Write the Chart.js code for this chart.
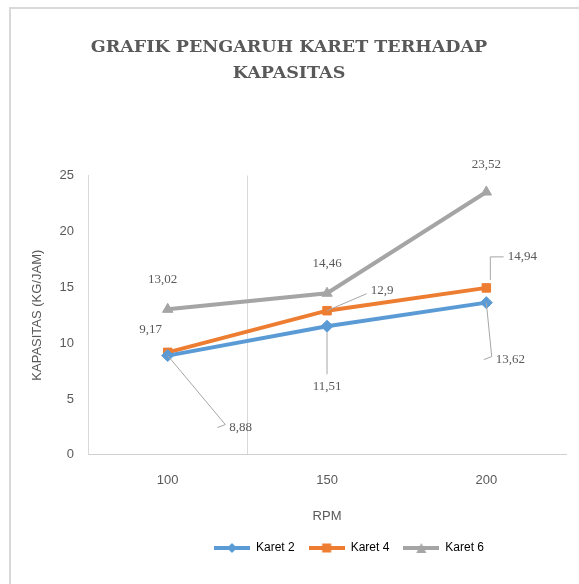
<!DOCTYPE html>
<html>
<head>
<meta charset="utf-8">
<script src="https://cdn.jsdelivr.net/npm/chart.js@4/dist/chart.umd.min.js"></script>
<style>
  html, body { margin: 0; padding: 0; background: #fff; }
  #wrap { width: 579px; height: 584px; }
</style>
</head>
<body>
<div id="wrap"><canvas id="chart" width="579" height="584"></canvas></div>
<script>
// Data
const rpm = ['100', '150', '200'];
const karet2 = [8.88, 11.51, 13.62];
const karet4 = [9.17, 12.9, 14.94];
const karet6 = [13.02, 14.46, 23.52];
const seriesNames = ['Karet 2', 'Karet 4', 'Karet 6'];

const colors = ['#5B9BD5', '#ED7D31', '#A5A5A5'];
const markers = ['rectRot', 'rect', 'triangle'];

// label offsets (dx, dy) relative to the point, plus leader line flag
const labelPos = [
  [[73, 72, true], [0, 60, true], [24, 57, true]],
  [[-17, -23, false], [55, -20, true], [36, -31, true]],
  [[-5, -30, false], [0, -30, false], [0, -27, false]]
];

function fmt(v) {
  return String(v).replace('.', ',');
}

// small canvas with line + marker for the legend
function legendIcon(color, style) {
  const c = document.createElement('canvas');
  c.width = 36; c.height = 12;
  const g = c.getContext('2d');
  g.strokeStyle = color; g.lineWidth = 4;
  g.beginPath(); g.moveTo(0, 6); g.lineTo(36, 6); g.stroke();
  g.fillStyle = color;
  g.beginPath();
  if (style === 'rectRot') {
    g.moveTo(18, 1); g.lineTo(23, 6); g.lineTo(18, 11); g.lineTo(13, 6);
  } else if (style === 'rect') {
    g.rect(13.5, 1.5, 9, 9);
  } else {
    g.moveTo(18, 1); g.lineTo(23, 11); g.lineTo(13, 11);
  }
  g.closePath(); g.fill();
  return c;
}

// chart area frame (left and top edges) + shift legend to the right like the original
const frame = {
  id: 'frame',
  afterLayout(chart) {
    chart.legend.left += 60;
    chart.legend.right += 60;
  },
  beforeDraw(chart) {
    const ctx = chart.ctx;
    ctx.save();
    ctx.strokeStyle = '#D9D9D9';
    ctx.lineWidth = 2;
    ctx.beginPath();
    ctx.moveTo(10, 584);
    ctx.lineTo(10, 8);
    ctx.lineTo(579, 8);
    ctx.stroke();
    ctx.restore();
  }
};

const dataLabels = {
  id: 'dataLabels',
  afterDatasetsDraw(chart) {
    const ctx = chart.ctx;
    ctx.save();
    ctx.font = '13px "Liberation Serif", "DejaVu Serif", serif';
    ctx.fillStyle = '#595959';
    ctx.strokeStyle = '#A6A6A6';
    ctx.lineWidth = 1;
    ctx.textAlign = 'center';
    ctx.textBaseline = 'middle';
    chart.data.datasets.forEach((ds, i) => {
      const meta = chart.getDatasetMeta(i);
      meta.data.forEach((pt, j) => {
        const [dx, dy, leader] = labelPos[i][j];
        const lx = pt.x + dx, ly = pt.y + dy;
        const w = ctx.measureText(fmt(ds.data[j])).width;
        if (leader) {
          ctx.beginPath();
          if (dy < 0 && dx > 0 && Math.abs(dx) < 40 && Math.abs(dy) > 25) {
            // elbow shape going up then right
            ctx.moveTo(pt.x + 4, pt.y - 8);
            ctx.lineTo(pt.x + 4, ly);
            ctx.lineTo(lx - w / 2 - 4, ly);
          } else if (Math.abs(dx) > 20) {
            ctx.moveTo(pt.x, pt.y);
            ctx.lineTo(lx - Math.sign(dx) * (w / 2 + 4), ly - Math.sign(dy) * 3);
            if (dy > 0) ctx.lineTo(lx - Math.sign(dx) * (w / 2 + 12), ly);
          } else {
            ctx.moveTo(pt.x, pt.y + 6);
            ctx.lineTo(lx, ly - Math.sign(dy) * 12);
          }
          ctx.stroke();
        }
        ctx.fillText(fmt(ds.data[j]), lx, ly);
      });
    });
    ctx.restore();
  }
};

const datasets = [karet2, karet4, karet6].map((vals, i) => ({
  label: seriesNames[i],
  data: vals,
  borderColor: colors[i],
  backgroundColor: colors[i],
  borderWidth: 4,
  pointStyle: markers[i],
  pointRadius: 6,
  pointBorderWidth: 1,
  tension: 0
}));

new Chart(document.getElementById('chart'), {
  type: 'line',
  data: { labels: rpm, datasets: datasets },
  plugins: [frame, dataLabels],
  options: {
    responsive: false,
    animation: false,
    layout: { padding: { left: 12, right: 13, top: 14, bottom: 20 } },
    plugins: {
      title: {
        display: true,
        text: ['GRAFIK PENGARUH KARET TERHADAP', 'KAPASITAS'],
        color: '#595959',
        font: { family: '"DejaVu Serif", serif', size: 17.5, weight: 'bold', lineHeight: 1.5 },
        padding: { top: 20, bottom: 89 }
      },
      legend: {
        position: 'bottom',
        labels: {
          usePointStyle: true,
          pointStyleWidth: 36,
          color: '#595959',
          font: { family: '"Liberation Sans", Arial, sans-serif', size: 12 },
          padding: 14,
          generateLabels(chart) {
            return chart.data.datasets.map((ds, i) => ({
              text: ds.label,
              pointStyle: legendIcon(colors[i], markers[i]),
              fillStyle: colors[i],
              strokeStyle: colors[i],
              lineWidth: 0,
              datasetIndex: i
            }));
          }
        }
      },
      tooltip: { enabled: false }
    },
    scales: {
      x: {
        offset: true,
        grid: {
          offset: true,
          drawTicks: false,
          color: (c) => (c.index === 1 || c.index === 3) ? '#D9D9D9' : 'rgba(0,0,0,0)'
        },
        border: { color: '#D0D0D0' },
        ticks: {
          color: '#595959',
          padding: 18,
          font: { family: '"Liberation Sans", Arial, sans-serif', size: 13 }
        },
        title: {
          display: true,
          text: 'RPM',
          color: '#595959',
          font: { family: '"Liberation Sans", Arial, sans-serif', size: 13 },
          padding: { top: 2, bottom: 4 }
        }
      },
      y: {
        min: 0,
        max: 25,
        ticks: {
          stepSize: 5,
          color: '#595959',
          padding: 14,
          font: { family: '"Liberation Sans", Arial, sans-serif', size: 13 }
        },
        grid: { display: false, drawTicks: false },
        border: { color: '#D9D9D9' },
        title: {
          display: true,
          text: 'KAPASITAS (KG/JAM)',
          color: '#595959',
          font: { family: '"Liberation Sans", Arial, sans-serif', size: 13 },
          padding: { top: 18, bottom: 0 }
        }
      }
    }
  }
});
</script>
</body>
</html>
